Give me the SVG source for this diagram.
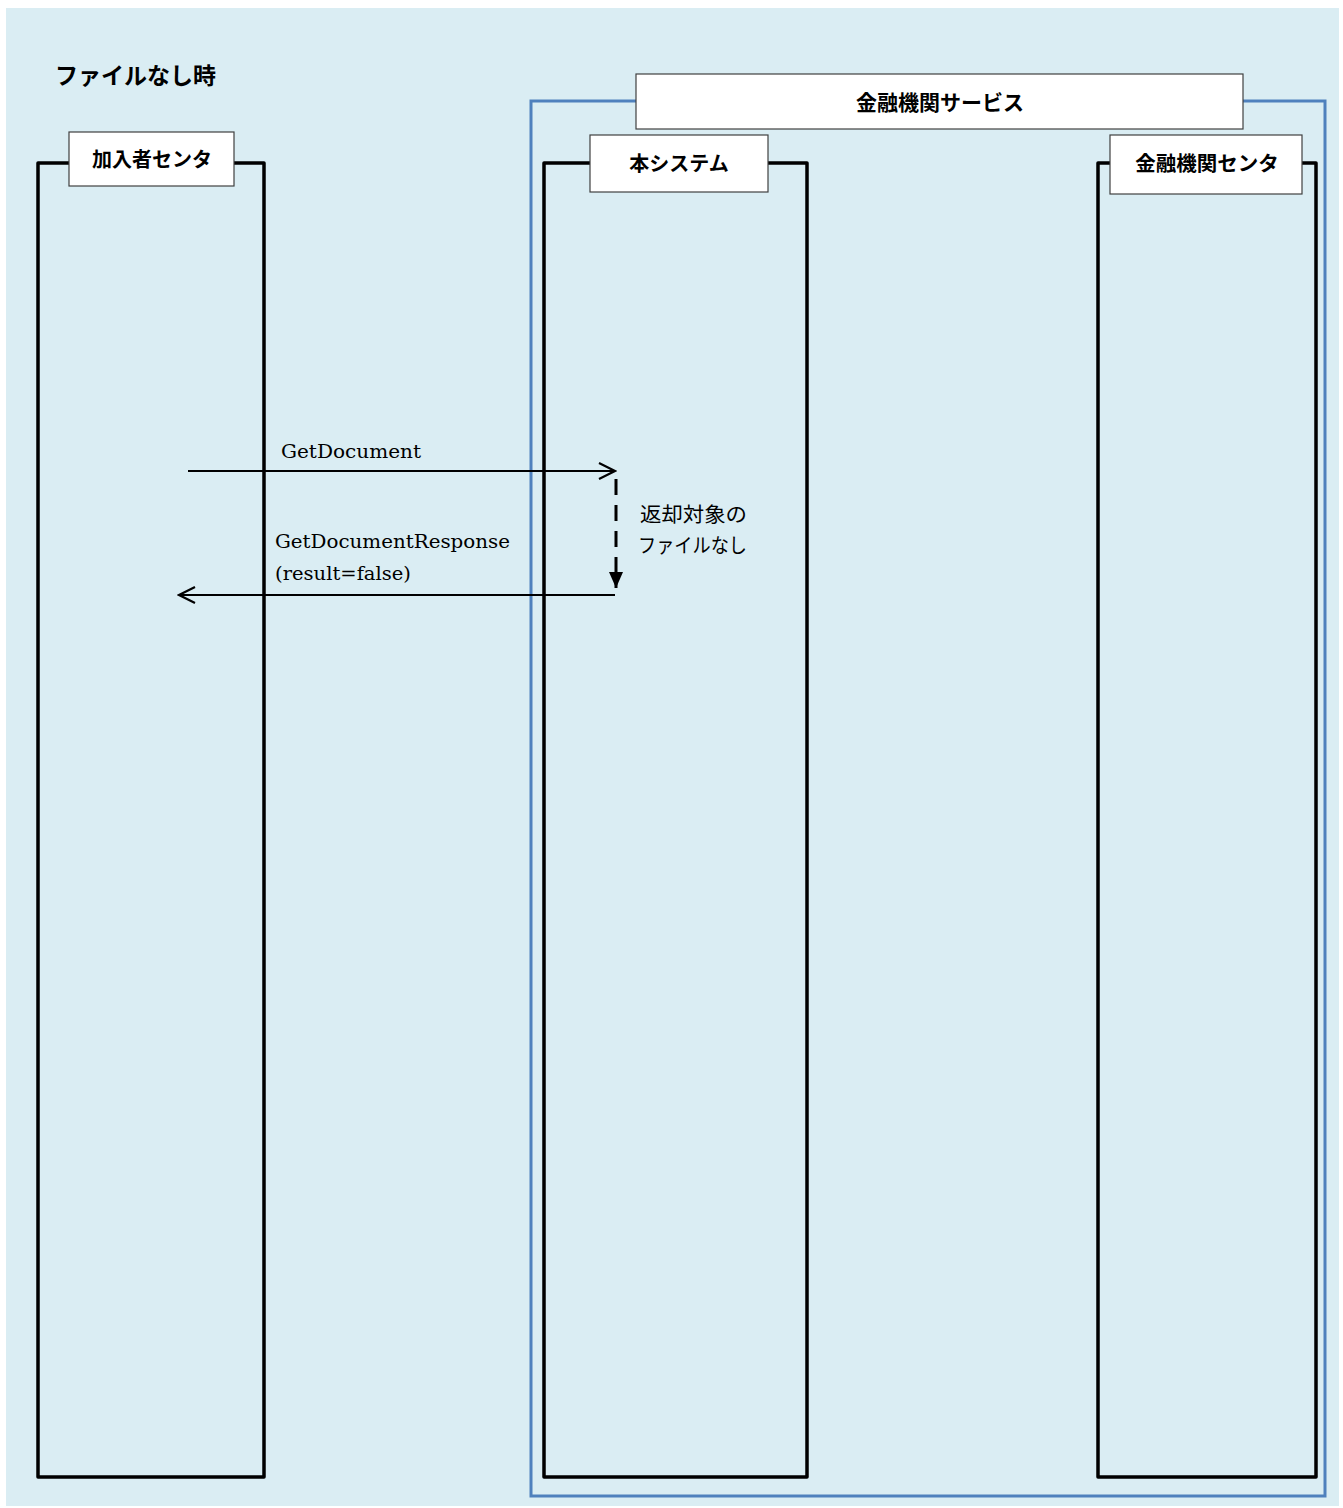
<svg xmlns="http://www.w3.org/2000/svg" width="1343" height="1508" viewBox="0 0 1343 1508">
<defs>
<style>
.jp{font-family:"Noto Sans CJK JP","Noto Sans",sans-serif;fill:#000}
.b{font-weight:bold}
.sf{font-family:"DejaVu Serif","Liberation Serif",serif;fill:#000;font-size:19px}
.life{fill:none;stroke:#000;stroke-width:3.5;stroke-linejoin:round}
.lbl{fill:#fff;stroke:#404040;stroke-width:1.2}
.msg{fill:none;stroke:#000;stroke-width:2.2}
</style>
<marker id="open" viewBox="0 0 20 20" refX="18" refY="10" markerWidth="20" markerHeight="20" markerUnits="userSpaceOnUse" orient="auto">
<path d="M2,2 L18,10 L2,18" fill="none" stroke="#000" stroke-width="2.2"/>
</marker>
<marker id="fill" viewBox="0 0 16 18" refX="8" refY="17" markerWidth="16" markerHeight="18" markerUnits="userSpaceOnUse" orient="0">
<path d="M1,1 L15,1 L8,17 Z" fill="#000"/>
</marker>
</defs>
<rect x="6" y="8" width="1333" height="1498" fill="#daedf3"/>
<text class="jp b" x="55" y="84" font-size="23">ファイルなし時</text>
<g id="service-frame">
<rect x="531" y="101" width="794" height="1395" fill="none" stroke="#4f81bd" stroke-width="3"/>
<rect class="lbl" x="636" y="74" width="607" height="55"/>
<text class="jp b" x="940" y="110" font-size="21" text-anchor="middle">金融機関サービス</text>
</g>
<g id="subscriber">
<rect class="life" x="38" y="163" width="226" height="1314"/>
<rect class="lbl" x="69" y="132" width="165" height="54"/>
<text class="jp b" x="152" y="167" font-size="20" text-anchor="middle">加入者センタ</text>
</g>
<g id="system">
<rect class="life" x="544" y="163" width="263" height="1314"/>
<rect class="lbl" x="590" y="135" width="178" height="57"/>
<text class="jp b" x="679" y="171" font-size="20" text-anchor="middle">本システム</text>
</g>
<g id="bank">
<rect class="life" x="1098" y="163" width="218" height="1314"/>
<rect class="lbl" x="1110" y="135" width="192" height="59"/>
<text class="jp b" x="1207" y="171" font-size="20.5" text-anchor="middle">金融機関センタ</text>
</g>
<g id="connectors">
<line class="msg" x1="188" y1="471" x2="615" y2="471" marker-end="url(#open)"/>
<line x1="616" y1="479" x2="616" y2="588" fill="none" stroke="#000" stroke-width="3" stroke-dasharray="16,10" marker-end="url(#fill)"/>
<line class="msg" x1="615" y1="595" x2="179" y2="595" marker-end="url(#open)"/>
</g>
<text class="sf" x="281" y="458" textLength="140" lengthAdjust="spacingAndGlyphs">GetDocument</text>
<text class="sf" x="275" y="548" textLength="235" lengthAdjust="spacingAndGlyphs">GetDocumentResponse</text>
<text class="sf" x="275" y="580" textLength="136" lengthAdjust="spacingAndGlyphs">(result=false)</text>
<text class="jp" x="640" y="522" font-size="20" textLength="107" lengthAdjust="spacingAndGlyphs">返却対象の</text>
<text class="jp" x="638" y="553" font-size="20" textLength="109" lengthAdjust="spacingAndGlyphs">ファイルなし</text>
</svg>
